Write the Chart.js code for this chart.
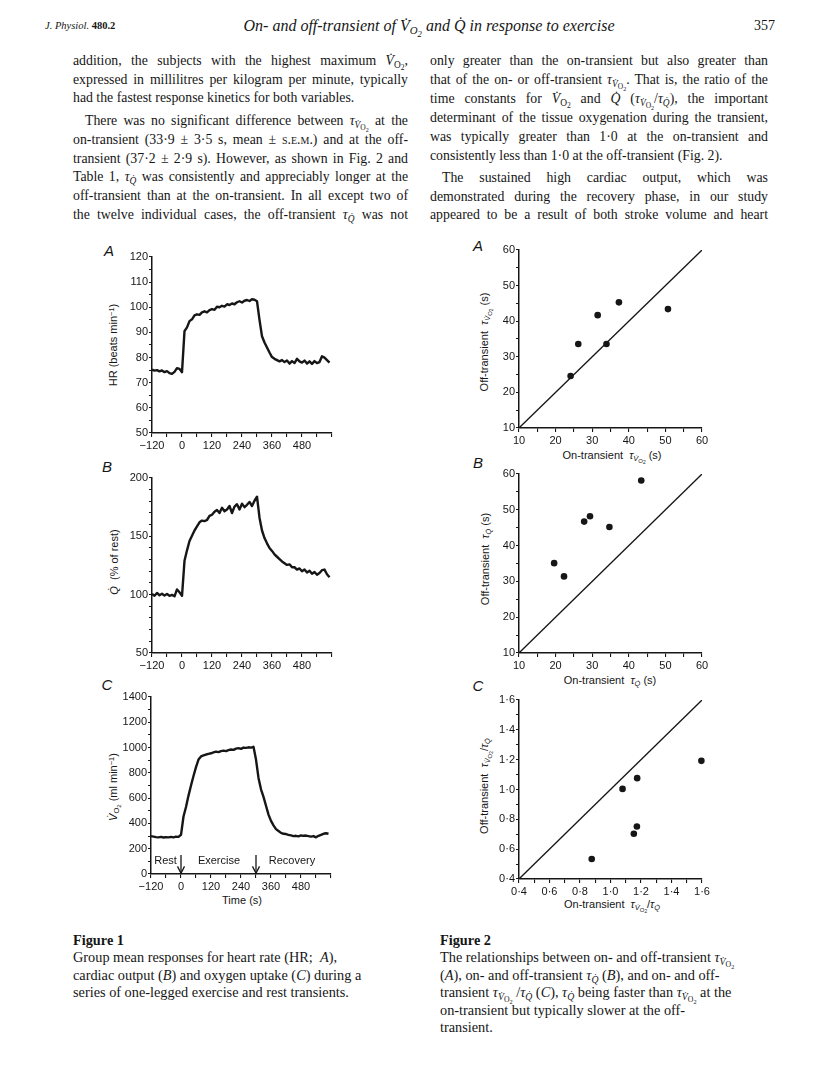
<!DOCTYPE html>
<html>
<head>
<meta charset="utf-8">
<script src="https://cdn.jsdelivr.net/npm/chart.js@4.4.1/dist/chart.umd.min.js"></script>
<style>
body{margin:0;background:#fff;}
#page{position:relative;width:816px;height:1088px;overflow:hidden;font-family:"Liberation Serif","DejaVu Serif",serif;color:#161616;}
.ln{position:absolute;font-size:13.8px;line-height:19px;height:19px;white-space:nowrap;}
sub{font-size:68%;vertical-align:-0.3em;line-height:0;}
sub sub{font-size:80%;}
sup{font-size:68%;vertical-align:0.45em;line-height:0;}
.sc{font-variant:small-caps;}
.yt{position:absolute;transform:translate(-50%,-50%) rotate(-90deg);white-space:nowrap;font-family:"Liberation Sans",Arial,sans-serif;font-size:11px;color:#161616;}
.xt{position:absolute;transform:translate(-50%,-50%);white-space:nowrap;font-family:"Liberation Sans",Arial,sans-serif;font-size:11px;color:#161616;}
.pl{position:absolute;transform:translate(-50%,-50%);font-family:"Liberation Sans",Arial,sans-serif;font-style:italic;font-size:15px;color:#161616;}
.cap{position:absolute;font-size:14.3px;line-height:18px;white-space:nowrap;}
</style>
</head>
<body>
<div id="page">
  <div class="ln" style="left:45px;top:16px;font-size:10.5px;"><i>J. Physiol.</i> <b>480.2</b></div>
  <div class="ln" style="left:429px;top:16px;font-size:16px;transform:translateX(-50%);"><i>On- and off-transient of V&#775;<sub>O<sub>2</sub></sub> and Q&#775; in response to exercise</i></div>
  <div class="ln" style="left:754px;top:16px;font-size:14px;">357</div>

  <div class="ln j" data-w="335" style="left:73px;top:51px;">addition, the subjects with the highest maximum <i>V&#775;</i><sub>O<sub>2</sub></sub>,</div>
  <div class="ln j" data-w="335" style="left:73px;top:70px;">expressed in millilitres per kilogram per minute, typically</div>
  <div class="ln" style="left:73px;top:88px;">had the fastest response kinetics for both variables.</div>
  <div class="ln j" data-w="323" style="left:85px;top:111px;">There was no significant difference between <i>τ</i><sub><i>V&#775;</i><sub>O<sub>2</sub></sub></sub> at the</div>
  <div class="ln j" data-w="335" style="left:73px;top:130px;">on-transient (33·9 ± 3·5 s, mean ± <span class="sc">s.e.m.</span>) and at the off-</div>
  <div class="ln j" data-w="335" style="left:73px;top:149px;">transient (37·2 ± 2·9 s). However, as shown in Fig. 2 and</div>
  <div class="ln j" data-w="335" style="left:73px;top:167px;">Table 1, <i>τ</i><sub><i>Q&#775;</i></sub> was consistently and appreciably longer at the</div>
  <div class="ln j" data-w="335" style="left:73px;top:186px;">off-transient than at the on-transient. In all except two of</div>
  <div class="ln j" data-w="335" style="left:73px;top:205px;">the twelve individual cases, the off-transient <i>τ</i><sub><i>Q&#775;</i></sub> was not</div>

  <div class="ln j" data-w="338" style="left:430px;top:51px;">only greater than the on-transient but also greater than</div>
  <div class="ln j" data-w="338" style="left:430px;top:70px;">that of the on- or off-transient <i>τ</i><sub><i>V&#775;</i><sub>O<sub>2</sub></sub></sub>. That is, the ratio of the</div>
  <div class="ln j" data-w="338" style="left:430px;top:89px;">time constants for <i>V&#775;</i><sub>O<sub>2</sub></sub> and <i>Q&#775;</i> (<i>τ</i><sub><i>V&#775;</i><sub>O<sub>2</sub></sub></sub>/<i>τ</i><sub><i>Q&#775;</i></sub>), the important</div>
  <div class="ln j" data-w="338" style="left:430px;top:108px;">determinant of the tissue oxygenation during the transient,</div>
  <div class="ln j" data-w="338" style="left:430px;top:127px;">was typically greater than 1·0 at the on-transient and</div>
  <div class="ln" style="left:430px;top:146px;">consistently less than 1·0 at the off-transient (Fig. 2).</div>
  <div class="ln j" data-w="326" style="left:442px;top:168px;">The sustained high cardiac output, which was</div>
  <div class="ln j" data-w="338" style="left:430px;top:187px;">demonstrated during the recovery phase, in our study</div>
  <div class="ln j" data-w="338" style="left:430px;top:205px;">appeared to be a result of both stroke volume and heart</div>

  <div class="pl" style="left:109px;top:250px;">A</div>
  <div class="pl" style="left:107px;top:466px;">B</div>
  <div class="pl" style="left:107px;top:684px;">C</div>
  <div class="pl" style="left:478px;top:245px;">A</div>
  <div class="pl" style="left:478px;top:462px;">B</div>
  <div class="pl" style="left:478px;top:685px;">C</div>

  <div class="yt" style="left:113px;top:345px;">HR (beats min<sup>−1</sup>)</div>
  <div class="yt" style="left:114px;top:562px;"><i>Q&#775;</i> &nbsp;(% of rest)</div>
  <div class="yt" style="left:113px;top:787px;"><i>V&#775;</i><sub>O<sub>2</sub></sub> (ml min<sup>−1</sup>)</div>
  <div class="xt" style="left:242px;top:900px;">Time (s)</div>

  <div class="yt" style="left:485px;top:342px;">Off-transient &nbsp;<i>τ</i><sub><i>V&#775;</i><sub>O<sub>2</sub></sub></sub> (s)</div>
  <div class="xt" style="left:612px;top:456px;">On-transient &nbsp;<i>τ</i><sub><i>V&#775;</i><sub>O<sub>2</sub></sub></sub> (s)</div>
  <div class="yt" style="left:485px;top:559px;">Off-transient &nbsp;<i>τ</i><sub><i>Q&#775;</i></sub> (s)</div>
  <div class="xt" style="left:610px;top:680px;">On-transient &nbsp;<i>τ</i><sub><i>Q&#775;</i></sub> (s)</div>
  <div class="yt" style="left:485px;top:786px;">Off-transient &nbsp;<i>τ</i><sub><i>V&#775;</i><sub>O<sub>2</sub></sub></sub>/<i>τ</i><sub><i>Q&#775;</i></sub></div>
  <div class="xt" style="left:612px;top:905px;">On-transient &nbsp;<i>τ</i><sub><i>V&#775;</i><sub>O<sub>2</sub></sub></sub>/<i>τ</i><sub><i>Q&#775;</i></sub></div>

  <div class="cap" style="left:73px;top:931px;"><b>Figure 1</b></div>
  <div class="cap" style="left:73px;top:948px;">Group mean responses for heart rate (HR; &nbsp;<i>A</i>),</div>
  <div class="cap" style="left:73px;top:966px;">cardiac output (<i>B</i>) and oxygen uptake (<i>C</i>) during a</div>
  <div class="cap" style="left:73px;top:983px;">series of one-legged exercise and rest transients.</div>

  <div class="cap" style="left:440px;top:931px;"><b>Figure 2</b></div>
  <div class="cap" style="left:440px;top:948px;">The relationships between on- and off-transient <i>τ</i><sub><i>V&#775;</i><sub>O<sub>2</sub></sub></sub></div>
  <div class="cap" style="left:440px;top:966px;">(<i>A</i>), on- and off-transient <i>τ</i><sub><i>Q&#775;</i></sub> (<i>B</i>), and on- and off-</div>
  <div class="cap" style="left:440px;top:983px;">transient <i>τ</i><sub><i>V&#775;</i><sub>O<sub>2</sub></sub></sub> /<i>τ</i><sub><i>Q&#775;</i></sub> (<i>C</i>), <i>τ</i><sub><i>Q&#775;</i></sub> being faster than <i>τ</i><sub><i>V&#775;</i><sub>O<sub>2</sub></sub></sub> at the</div>
  <div class="cap" style="left:440px;top:1001px;">on-transient but typically slower at the off-</div>
  <div class="cap" style="left:440px;top:1018px;">transient.</div>
</div>

<script>
// Figure 1: group mean responses, sampled every 10 s
let timeS = [-120,-110,-100,-90,-80,-70,-60,-50,-40,-30,-20,-10,
  0,10,20,30,40,50,60,70,80,90,100,110,120,130,140,150,160,170,180,190,
  200,210,220,230,240,250,260,270,280,290,300,310,320,330,340,350,360,370,380,390,
  400,410,420,430,440,450,460,470,480,490,500,510,520,530,540,550,560,570,580,590];

let hrBpm = [75.2,74.8,75.0,74.5,74.9,74.2,74.6,73.8,73.5,74.3,75.8,75.5,
  74.2,90.5,92.0,94.5,95.2,96.8,97.2,97.0,98.0,98.4,
  98.0,98.9,99.3,99.0,100.2,100.0,100.6,100.3,101.2,100.9,
  101.5,101.2,102.0,102.4,101.9,102.6,102.9,102.5,103.2,103.0,
  102.4,95.0,88.5,86.0,84.0,82.0,80.2,79.5,79.0,78.5,
  79.0,78.2,78.8,77.6,78.6,77.8,79.5,78.5,78.0,78.8,
  77.6,78.5,77.5,78.6,77.8,78.2,80.5,80.0,79.0,78.0];

let qRest = [100.5,99.0,101.5,99.5,100.8,99.2,100.6,99.0,99.8,98.6,104.5,102.0,
  99.0,129.0,138.0,146.0,150.5,155.0,158.5,162.0,163.5,163.0,
  164.0,167.5,168.5,171.0,172.5,170.0,174.5,171.5,173.0,176.0,
  170.0,175.5,177.5,173.0,178.0,175.0,177.0,179.5,176.0,180.5,
  184.0,166.0,155.0,148.5,144.0,140.0,137.5,134.5,132.5,130.5,
  128.5,127.0,125.5,126.0,123.5,123.5,121.5,122.5,120.0,121.5,
  119.0,120.5,118.0,119.5,117.0,118.5,121.0,121.5,117.5,115.0];

let vo2 = [300,296,292,290,294,289,292,290,294,290,296,294,
  310,455,530,620,700,775,845,905,930,938,
  945,950,955,962,968,964,972,976,972,980,
  985,982,992,996,990,1000,998,1002,1000,1006,
  905,760,670,610,540,470,420,385,355,340,
  325,318,316,310,305,300,302,298,305,302,
  304,300,296,300,290,302,310,318,322,318];

let timeTicks = [-120, 0, 120, 240, 360, 480];
let hrTicks = [50, 60, 70, 80, 90, 100, 110, 120];
let qTicks = [50, 100, 150, 200];
let vo2Ticks = [0, 200, 400, 600, 800, 1000, 1200, 1400];

let phaseNames = ['Rest', 'Exercise', 'Recovery'];
let phaseLabelAt = [-62, 152, 444];
let phaseArrowAt = [0, 300];

// Figure 2: individual time constants
let onTauVO2 = [24.1, 26.2, 31.5, 33.9, 37.3, 50.7];
let offTauVO2 = [24.6, 33.6, 41.7, 33.6, 45.3, 43.4];
let onTauQ = [19.6, 22.3, 27.8, 29.4, 34.7, 43.4];
let offTauQ = [35.1, 31.4, 46.7, 48.2, 45.2, 58.2];
let onRatio = [0.877, 1.079, 1.153, 1.173, 1.175, 1.596];
let offRatio = [0.534, 1.004, 0.703, 0.752, 1.076, 1.192];
let tauTicks = [10, 20, 30, 40, 50, 60];
let ratioTicks = [0.4, 0.6, 0.8, 1.0, 1.2, 1.4, 1.6];
let identityTau = [10, 60];
let identityRatio = [0.4, 1.6];

// justify each text line to its column width
document.querySelectorAll('.j').forEach(el => {
  el.innerHTML = '<span>' + el.innerHTML + '</span>';
  let w = el.firstElementChild.getBoundingClientRect().width;
  let n = (el.textContent.match(/ /g) || []).length;
  if (n) el.style.wordSpacing = ((+el.dataset.w - w) / n) + 'px';
});

let ink = '#161616';
let page = document.getElementById('page');
let PL = 60, PT = 16, PR = 22, PB = 30;

function mount(b) {
  let c = document.createElement('canvas');
  c.width = b.w + PL + PR;
  c.height = b.h + PT + PB;
  c.style.cssText = 'position:absolute;left:' + (b.left - PL) + 'px;top:' + (b.top - PT) + 'px;';
  page.appendChild(c);
  return c.getContext('2d');
}

function axis(min, max, step, labelled, fmt, size, isX) {
  return {
    type: 'linear', min: min, max: max,
    afterFit: s => { if (isX) s.height = PB; else s.width = PL; },
    ticks: {
      stepSize: step, autoSkip: false, maxRotation: 0, color: ink, padding: isX ? 2 : 1,
      font: {family: '"Liberation Sans", Arial, sans-serif', size: size},
      callback: v => labelled.some(l => Math.abs(l - v) < 1e-6) ? fmt(v) : ''
    },
    grid: {drawOnChartArea: false, tickLength: isX ? 4 : 3, color: ink, lineWidth: 1.1},
    border: {display: true, color: ink, width: 1.5}
  };
}

let plain = v => v < 0 ? '−' + Math.abs(v) : String(v);
let dotted = v => v.toFixed(1).replace('.', '·');

function baseOptions(x, y) {
  return {
    responsive: false, animation: false,
    layout: {padding: {left: 0, top: PT, right: PR, bottom: 0}},
    plugins: {legend: {display: false}, tooltip: {enabled: false}},
    scales: {x: x, y: y}
  };
}

let phasePlugin = {
  id: 'phases',
  afterDatasetsDraw(chart) {
    let ctx = chart.ctx, x = chart.scales.x, y = chart.scales.y;
    ctx.save();
    ctx.fillStyle = ink; ctx.strokeStyle = ink;
    ctx.font = '11px "Liberation Sans", Arial, sans-serif';
    ctx.textAlign = 'center'; ctx.textBaseline = 'middle';
    phaseNames.forEach((n, i) => ctx.fillText(n, x.getPixelForValue(phaseLabelAt[i]), y.getPixelForValue(105)));
    phaseArrowAt.forEach(t => {
      let px = x.getPixelForValue(t), y0 = y.getPixelForValue(150), y1 = y.getPixelForValue(5);
      ctx.lineWidth = 1.3;
      ctx.beginPath(); ctx.moveTo(px, y0); ctx.lineTo(px, y1); ctx.stroke();
      ctx.beginPath(); ctx.moveTo(px - 3.5, y1 - 7); ctx.lineTo(px, y1); ctx.lineTo(px + 3.5, y1 - 7); ctx.stroke();
    });
    ctx.restore();
  }
};

function traceChart(box, values, yMin, yMax, yStep, yTicks, plugins) {
  return new Chart(mount(box), {
    type: 'line',
    data: {datasets: [{
      data: timeS.map((t, i) => ({x: t, y: values[i]})),
      borderColor: ink, borderWidth: 2.4, pointRadius: 0, tension: 0, borderJoinStyle: 'round'
    }]},
    options: baseOptions(
      axis(-120, 600, 60, timeTicks, plain, 11, true),
      axis(yMin, yMax, yStep, yTicks, plain, 11, false)),
    plugins: plugins || []
  });
}

traceChart({left: 152, top: 257, w: 180, h: 176}, hrBpm, 50, 120, 5, hrTicks);
traceChart({left: 152, top: 478, w: 180, h: 175}, qRest, 50, 200, 10, qTicks);
traceChart({left: 151, top: 697, w: 180, h: 177}, vo2, 0, 1400, 100, vo2Ticks, [phasePlugin]);

function scatterChart(box, xs, ys, ident, min, max, step, ticks, fmt) {
  return new Chart(mount(box), {
    type: 'scatter',
    data: {datasets: [
      {type: 'line', data: ident.map(v => ({x: v, y: v})), borderColor: ink, borderWidth: 1.3, pointRadius: 0},
      {data: xs.map((v, i) => ({x: v, y: ys[i]})), pointRadius: 3.3, backgroundColor: ink, borderWidth: 0, clip: false}
    ]},
    options: baseOptions(
      axis(min, max, step, ticks, fmt, 11, true),
      axis(min, max, step, ticks, fmt, 11, false))
  });
}

scatterChart({left: 519, top: 250, w: 183, h: 178}, onTauVO2, offTauVO2, identityTau, 10, 60, 5, tauTicks, plain);
scatterChart({left: 519, top: 474, w: 183, h: 179}, onTauQ, offTauQ, identityTau, 10, 60, 5, tauTicks, plain);
scatterChart({left: 519, top: 700, w: 183, h: 179}, onRatio, offRatio, identityRatio, 0.4, 1.6, 0.1, ratioTicks, dotted);
</script>
</body>
</html>
